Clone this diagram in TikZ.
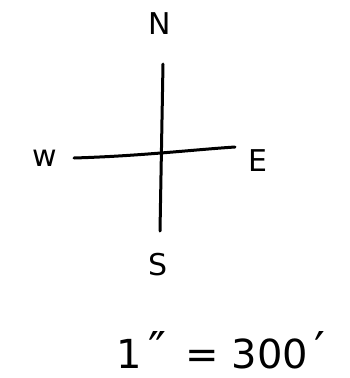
\documentclass[tikz,border=0pt]{standalone}
\usepackage{fontspec}
\setmainfont{DejaVu Sans}
\usepackage{tikz}
\usetikzlibrary{positioning}

\begin{document}
\begin{tikzpicture}[
      x=1pt, y=-1pt,
      axis/.style={line width=3pt, line cap=round},
      dir/.style={font=\fontsize{30}{32}\selectfont, inner sep=0pt},
      scale label/.style={font=\fontsize{40}{42}\selectfont, inner sep=0pt}
    ]
    \useasboundingbox (0,0) rectangle (349,378);

    % Cross arms
    \coordinate (top) at (163,64);
    \coordinate (bottom) at (160,231);
    \coordinate (left) at (74,158);
    \coordinate (right) at (235,147);
    \draw[axis] (top) -- (bottom);
    \draw[axis] (left) .. controls (140,156) and (190,150) .. (right);

    % Directions
    \node[dir] (north) at (160,24) {N};
    \node[dir] (south) at (158,265) {S};
    \node[dir] (west) at (45,158) {w};
    \node[dir] (east) at (258,161) {E};

    % Scale
    \node[scale label] (scale) at (221,350) {1\,\raisebox{2pt}{\fontsize{48}{50}\selectfont ″}\, = 300\,\raisebox{2pt}{\fontsize{48}{50}\selectfont ′}};
  \end{tikzpicture}
\end{document}
